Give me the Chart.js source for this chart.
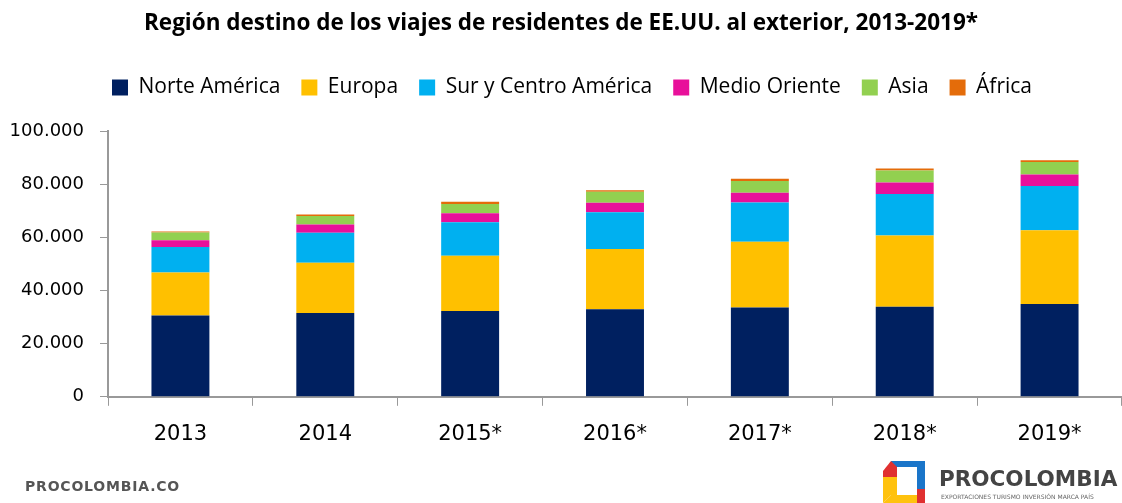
<!DOCTYPE html>
<html>
<head>
<meta charset="utf-8">
<script src="https://cdn.jsdelivr.net/npm/chart.js@4"></script>
<style>
  html,body{margin:0;padding:0;background:#fff;}
  #wrap{position:relative;width:1122px;height:503px;overflow:hidden;}
  #c{position:absolute;left:0;top:0;}
  #foot{position:absolute;left:25px;top:478px;font:bold 14px "DejaVu Sans",sans-serif;color:#555;letter-spacing:0.8px;}
  #logo{position:absolute;left:883px;top:461px;width:42px;height:42px;}
  #brand{position:absolute;left:939px;top:466px;font:bold 21.5px "DejaVu Sans",sans-serif;color:#444;}
  #tag{position:absolute;left:941px;top:493px;font:6px "DejaVu Sans",sans-serif;color:#666;white-space:nowrap;}
</style>
</head>
<body>
<div id="wrap">
  <canvas id="c" width="1122" height="503"></canvas>
  <div id="foot">PROCOLOMBIA.CO</div>
  <svg id="logo" viewBox="0 0 42 42">
    <polygon points="8,0 42,0 42,6 14,6 8,12" fill="#1a75c9"/>
    <polygon points="8,0 14,6 14,16 0,16 0,10" fill="#e03030"/>
    <polygon points="0,16 14,16 14,34 8,34 0,42" fill="#ffc20e"/>
    <polygon points="0,42 8,34 34,34 34,42" fill="#ffc20e"/>
    <polygon points="34,6 42,0 42,42 34,42" fill="#1a75c9"/>
    <polygon points="34,28 42,28 42,42 34,42" fill="#e03030"/>
  </svg>
  <div id="brand">PROCOLOMBIA</div>
  <div id="tag">EXPORTACIONES TURISMO INVERSIÓN MARCA PAÍS</div>
</div>
<script>
const categories = ['2013','2014','2015*','2016*','2017*','2018*','2019*'];
const seriesNames = ['Norte América','Europa','Sur y Centro América','Medio Oriente','Asia','África'];
const norteAmerica = [30600,31500,32300,32900,33600,33900,34900];
const europa       = [16200,18900,20800,22700,24700,26800,27800];
const surCentro    = [9600,11300,12600,13800,14800,15600,16600];
const medioOriente = [2500,3100,3400,3600,3700,4300,4300];
const asia         = [2900,3200,3400,4100,4400,4500,4700];
const africa       = [400,600,900,600,800,800,700];
const yTicks = [0,20000,40000,60000,80000,100000];
const colors = ['#002060','#FFC000','#00B0F0','#E8109A','#92D050','#E46C0A'];
const values = [norteAmerica,europa,surCentro,medioOriente,asia,africa];

const sans = '"Open Sans", sans-serif';

const legendMargin = {
  id: 'legendMargin',
  beforeInit(chart) {
    const fit = chart.legend.fit;
    chart.legend.fit = function () { fit.bind(chart.legend)(); this.height += 23; };
  },
  beforeDraw(chart) {
    const lg = chart.legend;
    if (lg && !lg._shifted) { lg.left += 11; lg.right += 11; lg._shifted = true; }
  }
};

new Chart(document.getElementById('c'), {
  type: 'bar',
  data: {
    labels: categories,
    datasets: seriesNames.map((n,i)=>({
      label: n, data: values[i], backgroundColor: colors[i],
      borderWidth: 0, barPercentage: 0.4, categoryPercentage: 1.0
    }))
  },
  plugins: [legendMargin],
  options: {
    responsive: false,
    animation: false,
    devicePixelRatio: 1,
    layout: {padding: {left: 0, right: 0, top: 0, bottom: 40}},
    plugins: {
      title: {
        display: true,
        text: 'Región destino de los viajes de residentes de EE.UU. al exterior, 2013-2019*',
        color: '#000',
        font: {family: sans, size: 22.5, weight: 'bold'},
        padding: {top: 10, bottom: 19}
      },
      legend: {
        position: 'top',
        labels: {
          color: '#000', boxWidth: 16, boxHeight: 16, padding: 21,
          font: {family: sans, size: 21}
        }
      },
      tooltip: {enabled: false}
    },
    scales: {
      x: {
        stacked: true,
        grid: {display: true, drawOnChartArea: false, drawTicks: true, tickLength: 9, color: '#999', offset: true},
        border: {color: '#999', width: 2},
        ticks: {color: '#000', padding: 16, font: {family: '"DejaVu Sans", sans-serif', size: 21}}
      },
      y: {
        stacked: true,
        min: 0, max: 100000,
        afterBuildTicks: (s) => { s.ticks = yTicks.map(v => ({value: v})); },
        afterFit: (s) => { s.width = 108; },
        grid: {display: true, drawOnChartArea: false, drawTicks: true, tickLength: 8, color: '#999'},
        border: {color: '#999', width: 2},
        ticks: {
          color: '#000', padding: 16,
          font: {family: '"DejaVu Sans", sans-serif', size: 18},
          callback: (v) => v.toLocaleString('de-DE')
        }
      }
    }
  }
});
</script>
</body>
</html>
